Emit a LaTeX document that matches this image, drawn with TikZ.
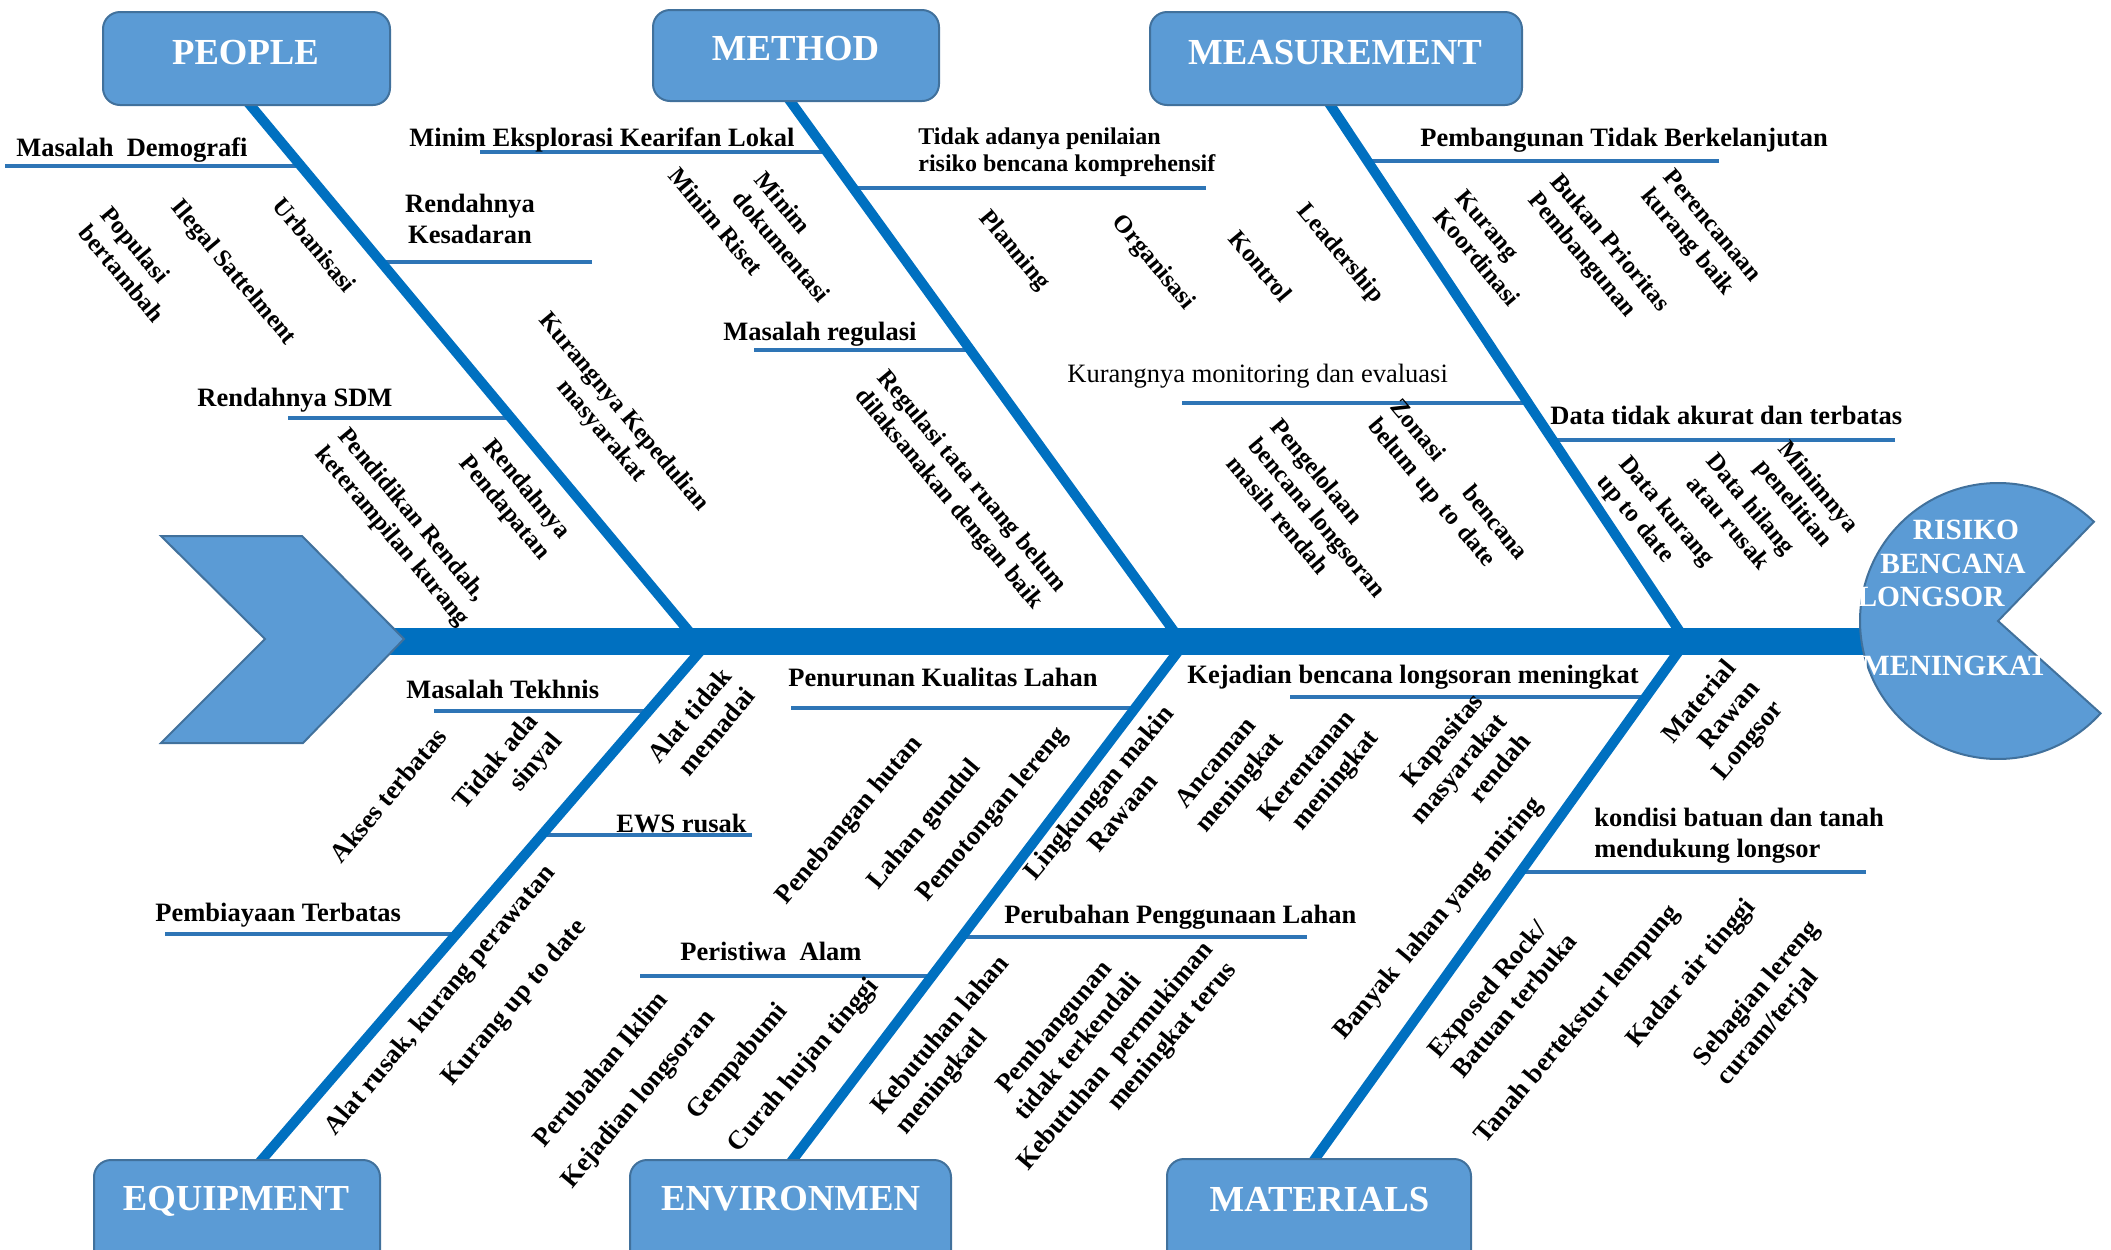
\documentclass[tikz,border=0pt]{standalone}
\usepackage{fontspec}
\setmainfont{Liberation Serif}
\begin{document}
\definecolor{boxfill}{HTML}{5B9BD5}
\definecolor{boxedge}{HTML}{41719C}
\definecolor{bonecol}{HTML}{0070C0}
\definecolor{subcol}{HTML}{2E75B6}
\newcommand\lblfnt{\fontsize{13.25}{15.5}\selectfont\bfseries}
\newcommand\uplblfnt{\fontsize{12.4}{14.5}\selectfont\bfseries}
\begin{tikzpicture}[x=0.5pt, y=-0.5pt,
  causebox/.style={draw=boxedge, line width=1pt, fill=boxfill, rounded corners=8.5pt, inner sep=0pt},
  boxtext/.style={text=white, font=\fontsize{18.35}{22}\selectfont\bfseries, inner sep=0pt, anchor=base},
  headtext/.style={text=white, font=\fontsize{14.7}{17}\selectfont\bfseries, inner sep=0pt, anchor=base},
  spineline/.style={draw=bonecol, line width=13.5pt},
  boneline/.style={draw=bonecol, line width=5pt},
  subline/.style={draw=subcol, line width=2.2pt},
  hlbl/.style={font=\lblfnt, inner sep=0pt},
  uplbl/.style={font=\uplblfnt, inner sep=0pt, rotate=-50, align=left},
  dnlbl/.style={hlbl, rotate=50, align=center},
]
\useasboundingbox (0,0) rectangle (2111,1249);
\clip (0,0) rectangle (2111,1249);

% ---- spine ends and bone junctions
\coordinate (tail) at (385,641);
\coordinate (headpt) at (1900,641);
\coordinate (J1) at (697,641);
\coordinate (J2) at (1181,641);
\coordinate (J3) at (1686,641);
\coordinate (L1) at (709,641);
\coordinate (L2) at (1186,641);
\coordinate (L3) at (1686,641);
% bone ends under the category boxes
\coordinate (pTop) at (246,100);
\coordinate (mTop) at (788,98);
\coordinate (sTop) at (1327,100);
\coordinate (eBot) at (253,1170);
\coordinate (vBot) at (785,1170);
\coordinate (tBot) at (1307,1170);

% ---- points on the bones where the sub-branches join
\path (pTop) -- (J1) coordinate[pos=0.122] (pb1) coordinate[pos=0.2994] (pb2) coordinate[pos=0.5878] (pb3);
\path (mTop) -- (J2) coordinate[pos=0.0994] (mb1) coordinate[pos=0.1657] (mb2) coordinate[pos=0.4641] (mb3);
\path (sTop) -- (J3) coordinate[pos=0.1128] (sb1) coordinate[pos=0.5601] (sb2) coordinate[pos=0.6285] (sb3);
\path (L1) -- (eBot) coordinate[pos=0.1323] (eb1) coordinate[pos=0.3667] (eb2) coordinate[pos=0.5539] (eb3);
\path (L2) -- (vBot) coordinate[pos=0.1267] (vb1) coordinate[pos=0.5595] (vb2) coordinate[pos=0.6333] (vb3);
\path (L3) -- (tBot) coordinate[pos=0.1059] (tb1) coordinate[pos=0.4367] (tb2);

% ---- free ends of the sub-branches
\coordinate (pf1) at (5,166);
\coordinate (pf2) at (592,262);
\coordinate (pf3) at (288,418);
\coordinate (mf1) at (480,152);
\coordinate (mf2) at (1206,188);
\coordinate (mf3) at (754,350);
\coordinate (sf1) at (1719,161);
\coordinate (sf2) at (1182,403);
\coordinate (sf3) at (1895,440);
\coordinate (ef1) at (434,711);
\coordinate (ef2) at (752,835);
\coordinate (ef3) at (165,934);
\coordinate (vf1) at (791,708);
\coordinate (vf2) at (1307,937);
\coordinate (vf3) at (640,976);
\coordinate (tf1) at (1290,697);
\coordinate (tf2) at (1866,872);

% ---- sub-branches
\foreach \f/\b in {pf1/pb1,pf2/pb2,pf3/pb3,mf1/mb1,mf2/mb2,mf3/mb3,sf1/sb1,sf2/sb2,sf3/sb3,
                   ef1/eb1,ef2/eb2,ef3/eb3,vf1/vb1,vf2/vb2,vf3/vb3,tf1/tb1,tf2/tb2}
  \draw[subline] (\f) -- (\f -| \b);

% ---- main bones
\draw[boneline] (pTop) -- (J1);
\draw[boneline] (mTop) -- (J2);
\draw[boneline] (sTop) -- (J3);
\draw[boneline] (L1) -- (eBot);
\draw[boneline] (L2) -- (vBot);
\draw[boneline] (L3) -- (tBot);

% ---- spine
\draw[spineline] (tail) -- (headpt);

% ---- tail chevron
\path[draw=boxedge, line width=1pt, fill=boxfill]
  (161,536) -- (302,536) -- (404,639) -- (303,743) -- (161,743) -- (265,639) -- cycle;

% ---- head
\coordinate (hc) at (1998,621);
\path[draw=boxedge, line width=1pt, fill=boxfill]
  (hc) -- ++(-46:138) arc[start angle=-46, end angle=-318, radius=138] -- cycle;
\node[headtext] (h1) at (1966,539) {RISIKO};
\node[headtext] (h2) at (1953,573) {BENCANA};
\node[headtext] (h3) at (1931,606.5) {LONGSOR};
\node[headtext] (h4) at (1955,675) {MENINGKAT};

% ---- category boxes
\node[causebox, minimum width=143.5pt, minimum height=46.5pt] (people) at (246.5,58.5) {};
\node[causebox, minimum width=143pt, minimum height=45.5pt] (method) at (796,55.5) {};
\node[causebox, minimum width=186pt, minimum height=46.5pt] (measure) at (1336,58.5) {};
\node[causebox, minimum width=143pt, minimum height=65pt] (equip) at (237,1225) {};
\node[causebox, minimum width=160.5pt, minimum height=65pt] (environ) at (790.5,1225) {};
\node[causebox, minimum width=152pt, minimum height=65.5pt] (material) at (1319,1224.5) {};
\node[boxtext] (peopleT) at (245.5,64) {PEOPLE};
\node[boxtext] (methodT) at (795.5,60) {METHOD};
\node[boxtext] (measureT) at (1335,64) {MEASUREMENT};
\node[boxtext] (equipT) at (236,1210) {EQUIPMENT};
\node[boxtext] (environT) at (790.6,1210) {ENVIRONMEN};
\node[boxtext] (materialT) at (1319.5,1211) {MATERIALS};

% ---- horizontal cause labels
\node[hlbl, anchor=base west] (c1) at (16,156) {Masalah\ \ Demografi};
\node[hlbl, align=center] (c2) at (470,219) {Rendahnya\\Kesadaran};
\node[hlbl, anchor=base west] (c3) at (197,406) {Rendahnya SDM};
\node[hlbl, anchor=base west] (c4) at (409,146) {Minim Eksplorasi Kearifan Lokal};
\node[hlbl, anchor=north west, align=left, font=\fontsize{12}{13.6}\selectfont\bfseries] (c5) at (918,127) {Tidak adanya penilaian\\risiko bencana komprehensif};
\node[hlbl, anchor=base west] (c6) at (723,340) {Masalah regulasi};
\node[hlbl, anchor=base west, font=\fontsize{13.25}{15.5}\selectfont\mdseries] (c7) at (1067,382) {Kurangnya monitoring dan evaluasi};
\node[hlbl, anchor=base west] (c8) at (1420,146) {Pembangunan Tidak Berkelanjutan};
\node[hlbl, anchor=base west] (c9) at (1550,424) {Data tidak akurat dan terbatas};
\node[hlbl, anchor=base west] (c10) at (406,698) {Masalah Tekhnis};
\node[hlbl, anchor=base west] (c11) at (616,832) {EWS rusak};
\node[hlbl, anchor=base west] (c12) at (155,921) {Pembiayaan Terbatas};
\node[hlbl, anchor=base west] (c13) at (788,686) {Penurunan Kualitas Lahan};
\node[hlbl, anchor=base west] (c14) at (680,960) {Peristiwa\ \ Alam};
\node[hlbl, anchor=base west] (c15) at (1004,923) {Perubahan Penggunaan Lahan};
\node[hlbl, anchor=base west] (c16) at (1187,683) {Kejadian bencana longsoran meningkat};
\node[hlbl, anchor=north west, align=left] (c17) at (1594,808) {kondisi batuan dan tanah\\mendukung longsor};

% ---- slanted labels above the spine
\node[uplbl] (u1) at (315,245) {Urbanisasi};
\node[uplbl] (u2) at (233,273) {Ilegal Sattelment};
\node[uplbl] (u3) at (133,264) {Populasi\\bertambah};
\node[uplbl, align=center] (u4) at (612,422) {Kurangnya Kepedulian\\masyarakat};
\node[uplbl, align=center] (u5) at (515,499) {Rendahnya\\Pendapatan};
\node[uplbl] (u6) at (403,528) {Pendidikan Rendah,\\keterampilan kurang};
\node[uplbl] (u7) at (716,221) {Minim Riset};
\node[uplbl] (u8) at (793,237) {Minim\\dokumentasi};
\node[uplbl] (u9) at (960,491) {Regulasi tata ruang belum\\dilaksanakan dengan baik};
\node[uplbl] (u10) at (1014,251) {Planning};
\node[uplbl] (u11) at (1153,263) {Organisasi};
\node[uplbl] (u12) at (1261,266) {Kontrol};
\node[uplbl] (u13) at (1340,254) {Leadership};
\node[uplbl] (u14) at (1488,248) {Kurang\\Koordinasi};
\node[uplbl] (u15) at (1598,253) {Bukan Prioritas\\Pembangunan};
\node[uplbl] (u16) at (1700,236) {Perencanaan\\kurang baik};
\node[uplbl] (u17) at (1318,517) {Pengelolaan\\bencana longsoran\\masih rendah};
\node[uplbl, text width=100pt] (u18) at (1447,490) {Zonasi\hfill bencana\\belum up to date};
\node[uplbl] (u19) at (1655,521) {Data kurang\\up to date};
\node[uplbl, align=center] (u20) at (1740,513) {Data hilang\\atau rusak};
\node[uplbl] (u21) at (1806,497) {Minimnya\\penelitian};

% ---- slanted labels below the spine
\node[dnlbl] (d1) at (388,795) {Akses terbatas};
\node[dnlbl, align=right] (d2) at (509,772) {Tidak ada\\sinyal};
\node[dnlbl, align=right] (d3) at (701,725) {Alat tidak\\memadai};
\node[dnlbl] (d4) at (441,1001) {Alat rusak, kurang perawatan};
\node[dnlbl] (d5) at (515,1003) {Kurang up to date};
\node[dnlbl] (d6) at (600,1069) {Perubahan Iklim};
\node[dnlbl] (d7) at (639,1100) {Kejadian longsoran};
\node[dnlbl] (d8) at (738,1062) {Gempabumi};
\node[dnlbl] (d9) at (804,1066) {Curah hujan tinggi};
\node[dnlbl] (d10) at (850,821) {Penebangan hutan};
\node[dnlbl] (d11) at (925,825) {Lahan gundul};
\node[dnlbl] (d12) at (993,815) {Pemotongan lereng};
\node[dnlbl] (d13) at (1110,802) {Lingkungan makin\\Rawaan};
\node[dnlbl] (d14) at (1229,774) {Ancaman\\meningkat};
\node[dnlbl, align=left] (d15) at (953,1046) {Kebutuhan lahan\\meningkatl};
\node[dnlbl] (d16) at (1065,1036) {Pembangunan\\tidak terkendali};
\node[dnlbl, align=right] (d17) at (1128,1067) {Kebutuhan\ \ permukiman\\meningkat terus};
\node[dnlbl, align=right] (d18) at (1320,777) {Kerentanan\\meningkat};
\node[dnlbl, align=right] (d19) at (1458,768) {Kapasitas\\masyarakat\\rendah};
\node[dnlbl, align=right] (d20) at (1724,723) {Material\\Rawan\\Longsor};
\node[dnlbl] (d21) at (1439,919) {Banyak\ \ lahan yang miring};
\node[dnlbl, align=left] (d22) at (1502,995) {Exposed Rock/\\Batuan terbuka};
\node[dnlbl] (d23) at (1578,1025) {Tanah bertekstur lempung};
\node[dnlbl] (d24) at (1692,974) {Kadar air tinggi};
\node[dnlbl, align=left] (d25) at (1769,1004) {Sebagian lereng\\curam/terjal};
\end{tikzpicture}
\end{document}
